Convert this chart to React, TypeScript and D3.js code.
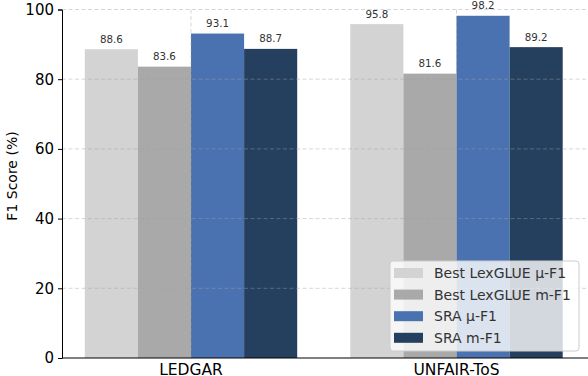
import React, { useEffect, useRef } from 'react';
import * as d3 from 'd3';

const categories = ['LEDGAR', 'UNFAIR-ToS'];
const seriesNames = ['Best LexGLUE μ-F1', 'Best LexGLUE m-F1', 'SRA μ-F1', 'SRA m-F1'];
const seriesValues = [
  [88.6, 95.8],
  [83.6, 81.6],
  [93.1, 98.2],
  [88.7, 89.2],
];
const seriesColors = ['#d3d3d3', '#a9a9a9', '#4a72b0', '#253f5f'];
const yTicks = [0, 20, 40, 60, 80, 100];

const W = 588;
const H = 376;
const FONT = 'DejaVu Sans, sans-serif';

export default function App() {
  const ref = useRef<SVGSVGElement>(null);

  useEffect(() => {
    const svg = d3.select(ref.current);
    svg.selectAll('*').remove();

    const left = 62;
    const x = d3.scaleLinear().domain([0, 1]).range([191, 456.5]);
    const y = d3.scaleLinear().domain([0, 100]).range([358, 9.5]);
    const bw = (x(1) - x(0)) * 0.2;

    // bars
    seriesValues.forEach((vals, s) => {
      const g = svg.append('g');
      g.selectAll('rect')
        .data(vals)
        .enter().append('rect')
        .attr('x', (_d, i) => x(i) + (s - 2) * bw)
        .attr('y', (d) => y(d))
        .attr('width', bw)
        .attr('height', (d) => y(0) - y(d))
        .attr('fill', seriesColors[s]);
      g.selectAll('text')
        .data(vals)
        .enter().append('text')
        .attr('x', (_d, i) => x(i) + (s - 1.5) * bw)
        .attr('y', (d) => y(d) - 6.5)
        .attr('text-anchor', 'middle')
        .style('font-family', FONT)
        .style('font-size', '10.3px')
        .attr('fill', '#333')
        .text((d) => d.toFixed(1));
    });

    // grid on top
    const grid = svg.append('g')
      .attr('stroke', '#a0a0a0')
      .attr('stroke-opacity', 0.55)
      .attr('stroke-dasharray', '4,2.5')
      .attr('stroke-width', 0.8);
    yTicks.filter((t) => t > 0).forEach((t) => {
      grid.append('line').attr('x1', left).attr('x2', W).attr('y1', y(t)).attr('y2', y(t));
    });
    categories.forEach((_c, i) => {
      grid.append('line').attr('x1', x(i)).attr('x2', x(i)).attr('y1', y(100)).attr('y2', y(0));
    });

    // y axis
    const yAxis = svg.append('g').attr('transform', `translate(${left},0)`)
      .call(d3.axisLeft(y).tickValues(yTicks).tickSize(4).tickPadding(4).tickFormat(d3.format('d')));
    yAxis.select('.domain').attr('stroke', '#000').attr('stroke-width', 1);
    yAxis.selectAll('text').style('font-family', FONT).style('font-size', '15px').attr('fill', '#000');

    // x spine
    svg.append('line').attr('x1', left).attr('x2', W).attr('y1', y(0)).attr('y2', y(0))
      .attr('stroke', '#000').attr('stroke-width', 1);

    svg.append('g').selectAll('text')
      .data(categories)
      .enter().append('text')
      .attr('x', (_d, i) => x(i))
      .attr('y', 374.5)
      .attr('text-anchor', 'middle')
      .style('font-family', FONT)
      .style('font-size', '15.5px')
      .attr('fill', '#000')
      .text((d) => d);

    svg.append('text')
      .attr('transform', 'translate(12.5, 176) rotate(-90)')
      .attr('text-anchor', 'middle')
      .attr('dy', '0.35em')
      .style('font-family', FONT)
      .style('font-size', '14px')
      .text('F1 Score (%)');

    // legend
    const lg = svg.append('g').attr('transform', 'translate(390,261)');
    lg.append('rect')
      .attr('width', 189).attr('height', 90).attr('rx', 3)
      .attr('fill', '#fff').attr('fill-opacity', 0.8)
      .attr('stroke', '#ccc').attr('stroke-width', 1);
    seriesNames.forEach((name, s) => {
      const cy = 12 + s * 21.6;
      lg.append('rect').attr('x', 4).attr('y', cy - 5).attr('width', 29).attr('height', 10)
        .attr('fill', seriesColors[s]);
      lg.append('text').attr('x', 44).attr('y', cy).attr('dy', '0.35em')
        .style('font-family', FONT).style('font-size', '14px').attr('fill', '#333')
        .text(name);
    });
  }, []);

  return (
    <svg ref={ref} width={W} height={H} style={{ position: 'absolute', left: 0, top: 0, background: '#fff' }} />
  );
}
